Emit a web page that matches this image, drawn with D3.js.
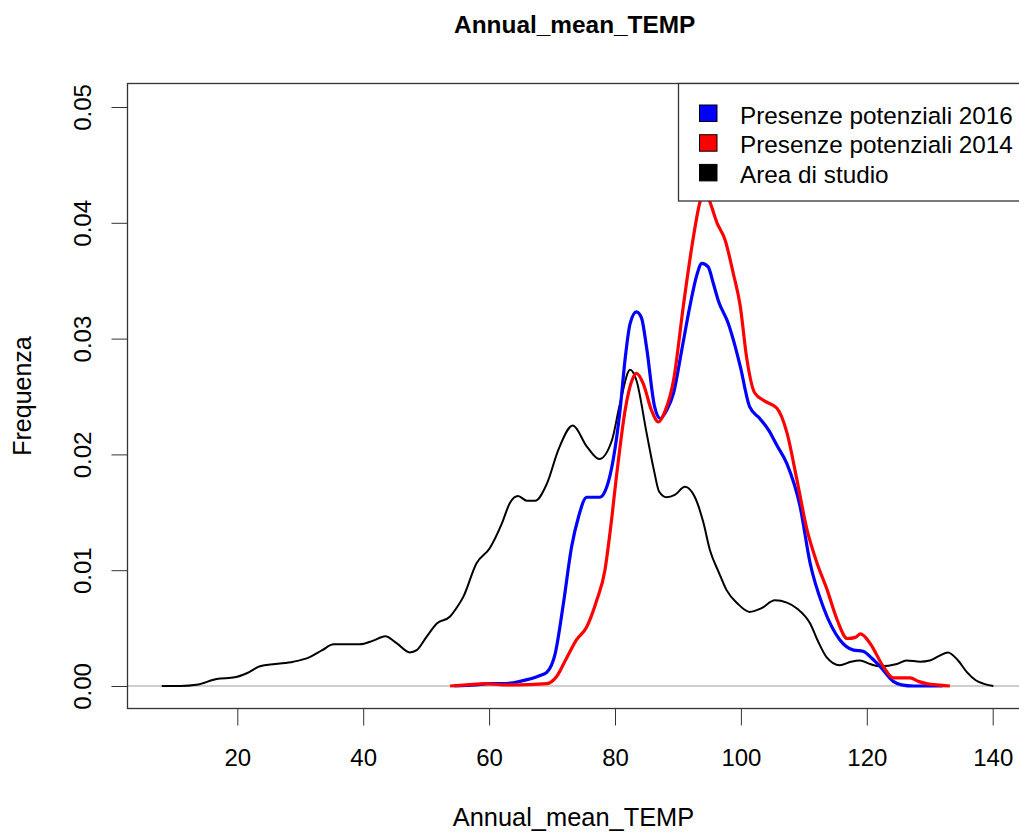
<!DOCTYPE html>
<html>
<head>
<meta charset="utf-8">
<script src="https://cdn.jsdelivr.net/npm/d3@7"></script>
<style>
    body { margin: 0; background: #fff; }
    svg { display: block; font-family: "Liberation Sans", Arial, sans-serif; }
</style>
</head>
<body>
<div id="chart"></div>
<script>
// density estimates: [Annual_mean_TEMP, Frequenza]
var areaStudio = [[8.0,0],[11,0],[13.5,0.0001],[16.7,0.0006],[19.6,0.00075],[21.5,0.0011],[23.6,0.0017],[26,0.0019],
    [28.9,0.0021],[31.5,0.0025],[33.5,0.0031],[35.3,0.0036],[37.5,0.0036],[39.5,0.0036],[41.5,0.0039],[43.5,0.0043],
    [45.3,0.0037],[47.4,0.0029],[48.5,0.0031],[50,0.0042],[51.7,0.0054],[53.8,0.006],[54.9,0.0068],[55.9,0.0077],
    [58.0,0.0106],[60.1,0.0119],[62.0,0.014],[63.3,0.0158],[64.6,0.0164],[66.0,0.016],[67.3,0.016],[69.2,0.0175],
    [71.0,0.0204],[73.3,0.0225],[75.5,0.0207],[77.5,0.0196],[79.5,0.0212],[80.8,0.0244],[82.4,0.0273],[83.4,0.0264],
    [85.0,0.0219],[86.2,0.0186],[87.0,0.0168],[88.2,0.0163],[89.5,0.0165],[91.1,0.0172],[92.7,0.0163],[94,0.0142],
    [95.1,0.0117],[96.5,0.0098],[97.7,0.0083],[99.5,0.0071],[101.4,0.0064],[103.2,0.0067],[105.4,0.0074],[107.3,0.0072],
    [108.9,0.0067],[111.0,0.0054],[112.3,0.0038],[113.6,0.0025],[115.7,0.0018],[117.5,0.0021],[118.9,0.0022],[120.5,0.0019],
    [122.1,0.0017],[124.8,0.0019],[126.3,0.0022],[128.5,0.0021],[130.0,0.0022],[131.5,0.0026],[132.9,0.0029],[134.5,0.0022],
    [135.9,0.0012],[137.3,0.0005],[138.5,0.0002],[140.1,0]];

var presenze2016 = [[54.5,0],[58,0.0001],[60,0.0002],[62.3,0.0002],[64.9,0.0004],[68.1,0.0009],[69.2,0.0012],[70.5,0.0028],
    [71.8,0.0071],[73.1,0.012],[74.2,0.0146],[75.5,0.0163],[77.6,0.0163],[78.7,0.0172],[79.7,0.0195],[80.8,0.0238],
    [81.6,0.0282],[82.4,0.0313],[83.4,0.0323],[84.2,0.0318],[85.0,0.0293],[86.3,0.0241],[87.2,0.0231],[88.2,0.0238],
    [89.3,0.0253],[90.6,0.029],[91.9,0.0328],[93.0,0.0355],[93.8,0.0365],[94.8,0.0362],[95.6,0.0348],[96.4,0.0333],
    [98.0,0.0313],[99.0,0.0295],[99.9,0.0276],[101.4,0.0241],[103.0,0.0231],[104.4,0.0221],[105.8,0.0207],[107.3,0.0192],
    [109.4,0.0155],[111.0,0.0106],[113.1,0.0068],[115.7,0.004],[117.9,0.0031],[119.4,0.003],[120.8,0.0024],[122.1,0.0017],
    [124.2,0.0004],[125.5,0.0001],[127.4,0],[132,0]];

var presenze2014 = [[53.8,0],[56.5,0.0001],[59.6,0.0002],[62.3,0.0001],[65,0.0001],[69.2,0.0002],[70.7,0.0008],[72.3,0.0024],
    [73.9,0.004],[75.5,0.0051],[77.1,0.0074],[78.4,0.01],[79.2,0.0132],[80.3,0.0184],[81.6,0.0238],[82.7,0.0264],
    [83.4,0.027],[84.5,0.0261],[85.8,0.0238],[86.9,0.0228],[88.0,0.0238],[89.3,0.0264],[90.9,0.033],[92.2,0.0379],
    [93.5,0.0418],[94.2,0.0428],[94.8,0.0422],[96.2,0.04],[97.5,0.0385],[98.8,0.0356],[99.9,0.0328],[100.9,0.0284],
    [102.2,0.0253],[103.8,0.0246],[105.7,0.024],[107.3,0.0219],[108.9,0.0178],[110.5,0.0135],[112.1,0.0106],[113.7,0.0083],
    [115.3,0.0057],[116.9,0.0041],[118.2,0.0042],[119.0,0.0045],[120.5,0.0037],[122.6,0.0017],[124.2,0.0007],[126.9,0.0007],
    [128.2,0.0004],[129.5,0.0002],[133.2,0]];

var xTicks = [20, 40, 60, 80, 100, 120, 140];
var yTicks = [0, 0.01, 0.02, 0.03, 0.04, 0.05];
var legendLabels = ["Presenze potenziali 2016", "Presenze potenziali 2014", "Area di studio"];
var legendColors = ["#0000ff", "#ff0000", "#000000"];

var W = 1019, H = 836;
var box = {left: 127.5, top: 83.5, right: 1022, bottom: 708.5};

var svg = d3.select("#chart").append("svg")
    .attr("width", W)
    .attr("height", H);

svg.append("rect").attr("width", W).attr("height", H).attr("fill", "#fff");

var xScale = d3.scaleLinear().domain([20, 140]).range([237.3, 992.7]);
var yScale = d3.scaleLinear().domain([0, 0.05]).range([686, 107]);

var line = d3.line()
    .x(function(d) { return xScale(d[0]); })
    .y(function(d) { return yScale(d[1]); })
    .curve(d3.curveMonotoneX);

// title
svg.append("text")
    .attr("x", (box.left + box.right) / 2)
    .attr("y", 33)
    .attr("text-anchor", "middle")
    .style("font-size", "24.4px")
    .style("font-weight", "bold")
    .text("Annual_mean_TEMP");

// x axis
var xAxis = d3.axisBottom(xScale).tickValues(xTicks).tickSize(17).tickPadding(23).tickSizeOuter(0);
var gX = svg.append("g")
    .attr("transform", "translate(0," + box.bottom + ")")
    .call(xAxis);
gX.select(".domain").remove();
gX.selectAll("line").attr("stroke", "#333");
gX.selectAll("text")
    .attr("fill", "#000")
    .style("font-size", "24px")
    .style("font-family", "'Liberation Sans', Arial, sans-serif");

// y axis, labels rotated like base R
var yAxis = d3.axisLeft(yScale).tickValues(yTicks).tickSize(16).tickFormat(d3.format(".2f")).tickSizeOuter(0);
var gY = svg.append("g")
    .attr("transform", "translate(" + box.left + ",0)")
    .call(yAxis);
gY.select(".domain").remove();
gY.selectAll("line").attr("stroke", "#333");
gY.selectAll("text")
    .attr("fill", "#000")
    .attr("x", null)
    .attr("dy", null)
    .attr("text-anchor", "middle")
    .attr("transform", "translate(-36.5,0) rotate(-90)")
    .style("font-size", "24px")
    .style("font-family", "'Liberation Sans', Arial, sans-serif");

svg.append("text")
    .attr("x", W / 2 + 64)
    .attr("y", 826)
    .attr("text-anchor", "middle")
    .style("font-size", "25.4px")
    .text("Annual_mean_TEMP");

svg.append("text")
    .attr("transform", "translate(31," + (box.top + box.bottom) / 2 + ") rotate(-90)")
    .attr("text-anchor", "middle")
    .style("font-size", "25px")
    .text("Frequenza");

// zero reference line
svg.append("line")
    .attr("x1", box.left)
    .attr("x2", box.right)
    .attr("y1", yScale(0))
    .attr("y2", yScale(0))
    .attr("stroke", "#bebebe")
    .attr("stroke-width", 1.3);

svg.append("path")
    .datum(areaStudio)
    .attr("fill", "none")
    .attr("stroke", "#000")
    .attr("stroke-width", 2)
    .attr("d", line);

svg.append("path")
    .datum(presenze2016)
    .attr("fill", "none")
    .attr("stroke", "#0000ff")
    .attr("stroke-width", 3.2)
    .attr("d", line);

svg.append("path")
    .datum(presenze2014)
    .attr("fill", "none")
    .attr("stroke", "#ff0000")
    .attr("stroke-width", 3.2)
    .attr("d", line);

// plot frame
svg.append("rect")
    .attr("x", box.left)
    .attr("y", box.top)
    .attr("width", box.right - box.left)
    .attr("height", box.bottom - box.top)
    .attr("fill", "none")
    .attr("stroke", "#333")
    .attr("stroke-width", 1.3);

// legend
var legend = svg.append("g");
legend.append("rect")
    .attr("x", 678.5)
    .attr("y", box.top)
    .attr("width", box.right - 678.5)
    .attr("height", 117.5)
    .attr("fill", "#fff")
    .attr("stroke", "#333")
    .attr("stroke-width", 1.3);

var rows = legend.selectAll("g.row")
    .data(legendLabels)
    .enter().append("g")
    .attr("class", "row")
    .attr("transform", function(d, i) { return "translate(0," + (113.5 + i * 29.7) + ")"; });

rows.append("rect")
    .attr("x", 699.5)
    .attr("y", -8.5)
    .attr("width", 17.5)
    .attr("height", 16.5)
    .attr("fill", function(d, i) { return legendColors[i]; })
    .attr("stroke", "#000")
    .attr("stroke-width", 1);

rows.append("text")
    .attr("x", 740)
    .attr("y", 10)
    .style("font-size", "24.3px")
    .text(function(d) { return d; });
</script>
</body>
</html>
